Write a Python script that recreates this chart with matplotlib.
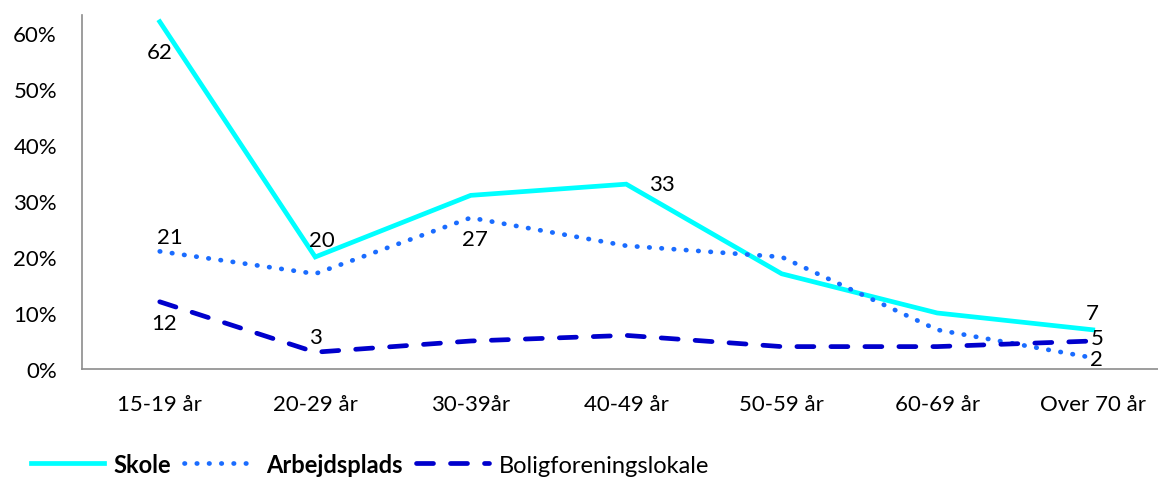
import matplotlib
matplotlib.use("Agg")
import matplotlib.pyplot as plt
from matplotlib.ticker import FuncFormatter

categories = ["15-19 år", "20-29 år", "30-39år", "40-49 år", "50-59 år", "60-69 år", "Over 70 år"]
skole = [62, 20, 31, 33, 17, 10, 7]
arbejdsplads = [21, 17, 27, 22, 20, 7, 2]
bolig = [12, 3, 5, 6, 4, 4, 5]
series_names = ["Skole", "Arbejdsplads", "Boligforeningslokale"]

plt.rcParams['font.family'] = ['Lato', 'DejaVu Sans']

fig = plt.figure(figsize=(11.58, 4.81), dpi=100)
ax = fig.add_axes([82/1158, 111/481, 1 - 82/1158, 354/481])
x = list(range(len(categories)))

lw = 3.4
l1, = ax.plot(x, skole, color="#00FFFF", lw=lw, solid_joinstyle="miter", label=series_names[0])
l2, = ax.plot(x, arbejdsplads, color="#1A6CFF", lw=lw, linestyle=(0, (0.1, 2.5)),
              dash_capstyle="round", label=series_names[1])
l3, = ax.plot(x, bolig, color="#0000CC", lw=lw, linestyle=(0, (3.6, 3.6)),
              dash_capstyle="round", label=series_names[2])

ax.set_xlim(-0.5, 6.42)
ax.set_ylim(0, 63.2)
ax.set_yticks([0, 10, 20, 30, 40, 50, 60])
ax.yaxis.set_major_formatter(FuncFormatter(lambda v, p: f"{int(v)}%"))
ax.set_xticks(x)
ax.set_xticklabels(categories)
ax.tick_params(axis="both", length=0, labelsize=16, colors="black")
ax.tick_params(axis="x", pad=18)
ax.tick_params(axis="y", pad=18)
for s in ["top", "right"]:
    ax.spines[s].set_visible(False)
for s in ["left", "bottom"]:
    ax.spines[s].set_color("#8c8c8c")
    ax.spines[s].set_linewidth(1.2)

fs = 16
def lab(xi, val, dx, dy, ha="center"):
    ax.annotate(str(val), (xi, val), xytext=(dx, dy), textcoords="offset points",
                ha=ha, va="center", fontsize=fs)

lab(0, skole[0], 0, -22)
lab(0, arbejdsplads[0], 7, 10)
lab(0, bolig[0], 3, -15)
lab(1, skole[1], 5, 12)
lab(1, bolig[1], 0, 11)
lab(2, arbejdsplads[2], 3, -15)
lab(3, skole[3], 26, 0)
lab(6, skole[6], 0, 12)
lab(6, bolig[6], 3, 2)
lab(6, arbejdsplads[6], 3, -1)

leg = fig.legend(handles=[l1, l2, l3], loc="lower left", bbox_to_anchor=(0.008, -0.035),
                 ncol=3, frameon=False, fontsize=17, handlelength=3.1,
                 columnspacing=0.55, handletextpad=0.4)
for t in leg.get_texts()[:2]:
    t.set_fontweight("bold")

fig.savefig("out.png", dpi=100)
